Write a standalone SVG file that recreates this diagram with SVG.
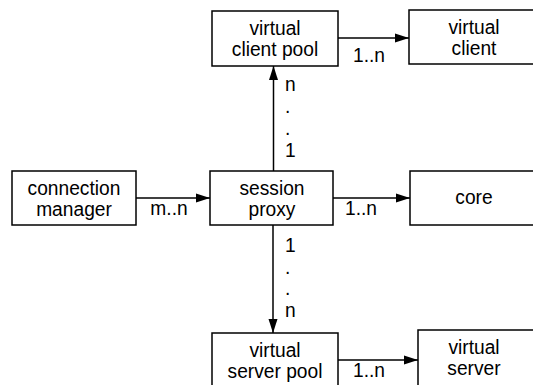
<svg xmlns="http://www.w3.org/2000/svg" width="533" height="385" viewBox="0 0 533 385">
  <style>
    .box { fill: #ffffff; stroke: #000000; stroke-width: 1.5; }
    .edge { fill: none; stroke: #000000; stroke-width: 1.5; }
    text { font-family: "Liberation Sans", Arial, sans-serif; font-size: 20px; fill: #000000; }
    .c { text-anchor: middle; }
  </style>
  <defs>
    <marker id="arrow" markerUnits="userSpaceOnUse" markerWidth="15" markerHeight="10" refX="14" refY="5" orient="auto">
      <path d="M0,0.5 L14,5 L0,9.5 z" fill="#000000"/>
    </marker>
  </defs>
  <rect width="533" height="385" fill="#ffffff"/>

  <g id="connectors">
    <line class="edge" x1="136" y1="198" x2="210" y2="198" marker-end="url(#arrow)"/>
    <line class="edge" x1="333" y1="198" x2="410" y2="198" marker-end="url(#arrow)"/>
    <line class="edge" x1="273.5" y1="171" x2="273.5" y2="66" marker-end="url(#arrow)"/>
    <line class="edge" x1="338" y1="38" x2="409" y2="38" marker-end="url(#arrow)"/>
    <line class="edge" x1="273" y1="225" x2="273" y2="333" marker-end="url(#arrow)"/>
    <line class="edge" x1="338" y1="360" x2="418" y2="360" marker-end="url(#arrow)"/>
    <!-- multiplicity labels, glyphs narrowed slightly -->
    <text transform="translate(169,215) scale(0.96,1)" class="c">m..n</text>
    <text transform="translate(361,215) scale(0.96,1)" class="c">1..n</text>
    <text transform="translate(369,62) scale(0.96,1)" class="c">1..n</text>
    <text transform="translate(369,377) scale(0.96,1)" class="c">1..n</text>
    <text transform="translate(285,91) scale(0.96,1)">n</text>
    <text transform="translate(285,113) scale(0.96,1)">.</text>
    <text transform="translate(285,135) scale(0.96,1)">.</text>
    <text transform="translate(285,157) scale(0.96,1)">1</text>
    <text transform="translate(285,252) scale(0.96,1)">1</text>
    <text transform="translate(285,273.5) scale(0.96,1)">.</text>
    <text transform="translate(285,295) scale(0.96,1)">.</text>
    <text transform="translate(285,317) scale(0.96,1)">n</text>
  </g>

  <g id="connection-manager">
    <rect class="box" x="12" y="171" width="124" height="54"/>
    <text transform="translate(74,194.5) scale(0.96,1)" class="c">connection</text>
    <text transform="translate(74,215.5) scale(0.96,1)" class="c">manager</text>
  </g>
  <g id="session-proxy">
    <rect class="box" x="210" y="171" width="123" height="54"/>
    <text transform="translate(272,194.5) scale(0.96,1)" class="c">session</text>
    <text transform="translate(272,215.5) scale(0.96,1)" class="c">proxy</text>
  </g>
  <g id="core">
    <rect class="box" x="410" y="171" width="124" height="54"/>
    <text transform="translate(474,204) scale(0.96,1)" class="c">core</text>
  </g>
  <g id="virtual-client-pool">
    <rect class="box" x="212" y="11" width="126" height="55"/>
    <text transform="translate(275,35) scale(0.96,1)" class="c">virtual</text>
    <text transform="translate(275,56) scale(0.96,1)" class="c">client pool</text>
  </g>
  <g id="virtual-client">
    <rect class="box" x="409" y="10" width="125" height="54"/>
    <text transform="translate(474,34) scale(0.96,1)" class="c">virtual</text>
    <text transform="translate(474,55) scale(0.96,1)" class="c">client</text>
  </g>
  <g id="virtual-server-pool">
    <rect class="box" x="212" y="333" width="126" height="60"/>
    <text transform="translate(275,357) scale(0.96,1)" class="c">virtual</text>
    <text transform="translate(275,378) scale(0.96,1)" class="c">server pool</text>
  </g>
  <g id="virtual-server">
    <rect class="box" x="418" y="330" width="120" height="60"/>
    <text transform="translate(474,354) scale(0.96,1)" class="c">virtual</text>
    <text transform="translate(474,375) scale(0.96,1)" class="c">server</text>
  </g>
</svg>
